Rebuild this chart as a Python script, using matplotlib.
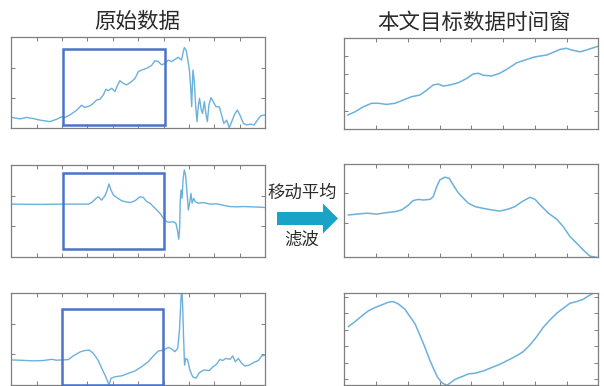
import numpy as np
import matplotlib
matplotlib.use("Agg")
import matplotlib.pyplot as plt
from matplotlib.patches import Rectangle, FancyArrow

plt.rcParams['font.family'] = ['Noto Sans CJK SC', 'DejaVu Sans']

# raw signals (left column), x in 0..100
raw1_x = [0, 2.1, 3.4, 6.0, 7.4, 8.7, 11.3, 15.2, 17.9, 19.8, 21.2, 23.1, 25.8, 27.7, 29.0,
          31.0, 32.3, 33.6, 35.0, 36.3, 37.3, 38.2, 39.6, 40.9, 41.5, 42.8, 44.2, 45.5, 47.4,
          48.8, 50.1, 51.4, 53.4, 55.3, 56.6, 58.0, 59.3, 60.6, 61.9, 63.2, 64.5, 65.8, 67.1,
          67.8, 68.2, 68.9, 69.5, 70.2, 70.7, 71.1, 71.6, 72.1, 72.7, 73.2, 73.7, 74.2, 74.9,
          75.4, 76.1, 76.7, 77.3, 77.9, 78.7, 79.6, 80.7, 82.0, 82.9, 83.8, 84.9, 85.9, 86.9,
          87.9, 89.1, 90.1, 91.5, 92.8, 94.3, 95.7, 97.0, 98.3, 100]
raw1_y = [0.36, 0.33, 0.31, 0.36, 0.34, 0.32, 0.27, 0.22, 0.30, 0.38, 0.36, 0.44, 0.60, 0.76, 0.69,
          0.74, 0.82, 0.93, 0.96, 1.10, 1.29, 1.24, 1.32, 1.21, 1.35, 1.57, 1.48, 1.43, 1.54,
          1.65, 1.87, 1.92, 1.98, 2.07, 2.23, 2.20, 2.09, 2.14, 2.25, 2.20, 2.27, 2.34, 2.25,
          2.53, 2.66, 2.58, 2.31, 1.92, 1.37, 0.71, 1.92, 1.59, 0.71, 0.22, 0.71, 0.99, 0.60,
          0.49, 0.88, 0.49, 0.22, 0.77, 1.01, 0.88, 0.71, 0.71, 0.44, 0.16, 0.27, 0.02, 0.22,
          0.44, 0.60, 0.44, 0.16, 0.11, 0.14, 0.11, 0.27, 0.41, 0.44]

raw2_x = [0, 11.3, 19.2, 30.4, 31.7, 33.4, 34.3, 35.6, 36.9, 37.8, 38.5, 39.2, 40.2, 41.5,
          43.5, 44.8, 46.8, 48.8, 50.7, 52.0, 53.4, 54.7, 56.0, 57.3, 58.6, 59.9, 61.3, 62.6,
          63.9, 64.9, 65.6, 66.0, 66.4, 66.6, 66.9, 67.3, 67.7, 68.2, 68.7, 69.3, 69.8, 70.3,
          70.8, 71.3, 71.9, 72.5, 73.7, 75.7, 78.3, 81.0, 83.6, 86.2, 88.8, 91.4, 95.4, 100]
raw2_y = [1.72, 1.71, 1.72, 1.72, 1.77, 1.91, 1.96, 1.85, 1.99, 2.18, 2.38, 2.20, 2.02, 1.94,
          1.83, 1.80, 1.77, 1.83, 1.96, 1.94, 1.80, 1.75, 1.64, 1.53, 1.42, 1.26, 1.14, 1.13,
          1.14, 1.09, 0.82, 0.57, 0.98, 1.85, 2.18, 1.91, 2.51, 2.84, 2.67, 2.07, 1.53, 1.75,
          2.07, 1.75, 1.91, 1.80, 1.75, 1.77, 1.72, 1.73, 1.68, 1.64, 1.63, 1.64, 1.63, 1.61]

raw3_x = [0, 3.4, 8.7, 12.6, 15.9, 17.9, 19.9, 22.5, 24.4, 27.1, 29.1, 30.8, 32.3, 34.3, 35.6,
          36.9, 37.8, 38.5, 39.3, 40.9, 43.5, 46.1, 48.8, 51.4, 54.0, 56.0, 57.9, 59.9, 61.9,
          63.2, 64.5, 65.6, 66.3, 66.8, 67.2, 67.6, 67.9, 68.3, 68.8, 69.5, 70.4, 71.5, 72.8,
          74.1, 75.9, 78.0, 79.6, 80.9, 82.3, 83.3, 84.6, 86.2, 87.3, 88.3, 89.5, 90.8, 92.1,
          93.8, 95.4, 97.4, 98.7, 100]
raw3_y = [0.82, 0.81, 0.79, 0.80, 0.84, 0.81, 0.82, 0.83, 0.95, 1.08, 1.13, 1.14, 1.04, 0.80, 0.55,
          0.33, 0.16, 0.0, 0.22, 0.27, 0.30, 0.38, 0.46, 0.60, 0.76, 0.95, 1.11, 1.14, 1.23,
          1.18, 1.09, 1.20, 1.80, 2.67, 3.30, 2.45, 1.58, 0.65, 0.87, 0.82, 0.49, 0.27, 0.22,
          0.40, 0.49, 0.47, 0.60, 0.68, 0.84, 0.80, 0.87, 0.84, 0.95, 0.76, 0.87, 0.71, 0.62,
          0.65, 0.73, 0.80, 0.95, 0.98]

# selected windows (x0, x1, y0, y1)
win1 = (20.5, 60.6, 0.11, 2.60)
win2 = (20.5, 60.3, 0.24, 2.73)
win3 = (19.9, 59.7, 0.0, 2.48)

# moving-average filtered windows (right column), x in 0..8
flt1_x = [0.11, 0.34, 0.60, 0.86, 1.07, 1.34, 1.60, 1.86, 2.12, 2.38, 2.60, 2.80, 2.96, 3.12,
          3.33, 3.59, 3.86, 4.06, 4.22, 4.38, 4.64, 4.90, 5.17, 5.43, 5.69, 5.95, 6.16, 6.37,
          6.58, 6.79, 7.00, 7.16, 7.42, 7.63, 7.84, 8.0]
flt1_y = [0.78, 0.96, 1.23, 1.42, 1.42, 1.36, 1.42, 1.60, 1.78, 1.87, 2.14, 2.42, 2.47, 2.36,
          2.42, 2.54, 2.78, 3.02, 3.06, 2.95, 2.91, 3.06, 3.33, 3.63, 3.78, 3.93, 4.00, 4.05,
          4.20, 4.36, 4.42, 4.33, 4.23, 4.33, 4.45, 4.54]

flt2_x = [0.13, 0.39, 0.71, 1.02, 1.34, 1.60, 1.81, 2.02, 2.17, 2.33, 2.49, 2.70, 2.80, 2.91,
          3.01, 3.17, 3.31, 3.43, 3.59, 3.75, 3.91, 4.12, 4.38, 4.64, 4.90, 5.17, 5.38, 5.59,
          5.85, 6.01, 6.22, 6.43, 6.69, 6.90, 7.11, 7.32, 7.53, 7.74, 7.95]
flt2_y = [1.26, 1.29, 1.32, 1.29, 1.34, 1.37, 1.43, 1.59, 1.74, 1.78, 1.76, 1.78, 1.87, 2.20,
          2.43, 2.52, 2.48, 2.26, 2.00, 1.82, 1.65, 1.54, 1.48, 1.43, 1.39, 1.46, 1.54, 1.70,
          1.85, 1.78, 1.54, 1.32, 1.12, 0.87, 0.54, 0.32, 0.09, -0.11, -0.15]

flt3_x = [0.13, 0.34, 0.55, 0.76, 0.97, 1.18, 1.39, 1.54, 1.70, 1.91, 2.07, 2.23, 2.38, 2.54,
          2.70, 2.83, 2.93, 3.07, 3.23, 3.35, 3.49, 3.70, 3.91, 4.12, 4.38, 4.64, 4.90, 5.17,
          5.43, 5.64, 5.85, 6.06, 6.27, 6.48, 6.69, 6.90, 7.11, 7.32, 7.53, 7.69, 7.84, 8.0]
flt3_y = [3.19, 3.49, 3.83, 4.14, 4.34, 4.50, 4.66, 4.70, 4.56, 4.24, 3.79, 3.35, 2.68, 1.94,
          1.13, 0.57, 0.16, -0.20, -0.36, -0.20, 0.0, 0.16, 0.33, 0.37, 0.51, 0.71, 0.91, 1.17,
          1.43, 1.68, 2.08, 2.58, 3.15, 3.59, 3.99, 4.30, 4.60, 4.70, 4.84, 5.04, 5.20, 5.24]

line_color = '#6cb0dc'
box_color = '#4a74c8'
frame_color = '#7f7f7f'
text_color = '#2a2a2a'

fig = plt.figure(figsize=(6.04, 3.86), dpi=100)


def style(ax, xticks, yticks, xlim, ylim):
    ax.set_xlim(*xlim)
    ax.set_ylim(*ylim)
    ax.set_xticks(xticks)
    ax.set_yticks(yticks)
    ax.tick_params(direction='in', length=3, width=0.7, color=frame_color,
                   top=True, right=True, labelbottom=False, labelleft=False)
    for s in ax.spines.values():
        s.set_color(frame_color)
        s.set_linewidth(0.9)


left_pos = [[0.0187, 0.6676, 0.42, 0.2358],
            [0.0187, 0.335, 0.42, 0.2376],
            [0.0187, 0.0026, 0.42, 0.2376]]
right_pos = [[0.570, 0.665, 0.4205, 0.2373],
             [0.570, 0.3334, 0.4205, 0.241],
             [0.570, 0.0026, 0.4205, 0.2376]]

raws = [(raw1_x, raw1_y, win1), (raw2_x, raw2_y, win2), (raw3_x, raw3_y, win3)]
for pos, (xs, ys, win) in zip(left_pos, raws):
    ax = fig.add_axes(pos)
    ax.plot(xs, ys, color=line_color, lw=1.0)
    x0, x1, y0, y1 = win
    ax.add_patch(Rectangle((x0, y0), x1 - x0, y1 - y0, fill=False,
                           edgecolor=box_color, lw=1.8, clip_on=False, zorder=3))
    style(ax, np.arange(0, 101, 10), [1, 2], (0, 100), (0, 3))

flts = [(flt1_x, flt1_y, [1, 2, 3, 4], (0, 5)),
        (flt2_x, flt2_y, [1, 2], (-0.15, 2.95)),
        (flt3_x, flt3_y, [0, 1, 2, 3, 4, 5], (-0.34, 5.2))]
for pos, (xs, ys, yt, yl) in zip(right_pos, flts):
    ax = fig.add_axes(pos)
    ax.plot(xs, ys, color=line_color, lw=1.1)
    style(ax, np.arange(0, 9, 1), yt, (0, 8), yl)

# pixel-space overlay for titles and the arrow
ov = fig.add_axes([0, 0, 1, 1], facecolor='none')
ov.set_xlim(0, 604)
ov.set_ylim(386, 0)
ov.axis('off')
ov.text(137, 22, '原始数据', ha='center', va='center', fontsize=15.5, color=text_color)
ov.text(474, 23, '本文目标数据时间窗', ha='center', va='center', fontsize=15.5, color=text_color)
ov.text(302, 193, '移动平均', ha='center', va='center', fontsize=12.5, color=text_color)
ov.text(302, 240, '滤波', ha='center', va='center', fontsize=12.5, color=text_color)
ov.add_patch(FancyArrow(277, 218.5, 61, 0, width=13, head_width=30, head_length=15,
                        length_includes_head=True, color='#19a3c6', lw=0))

fig.savefig('out.png', dpi=100)
